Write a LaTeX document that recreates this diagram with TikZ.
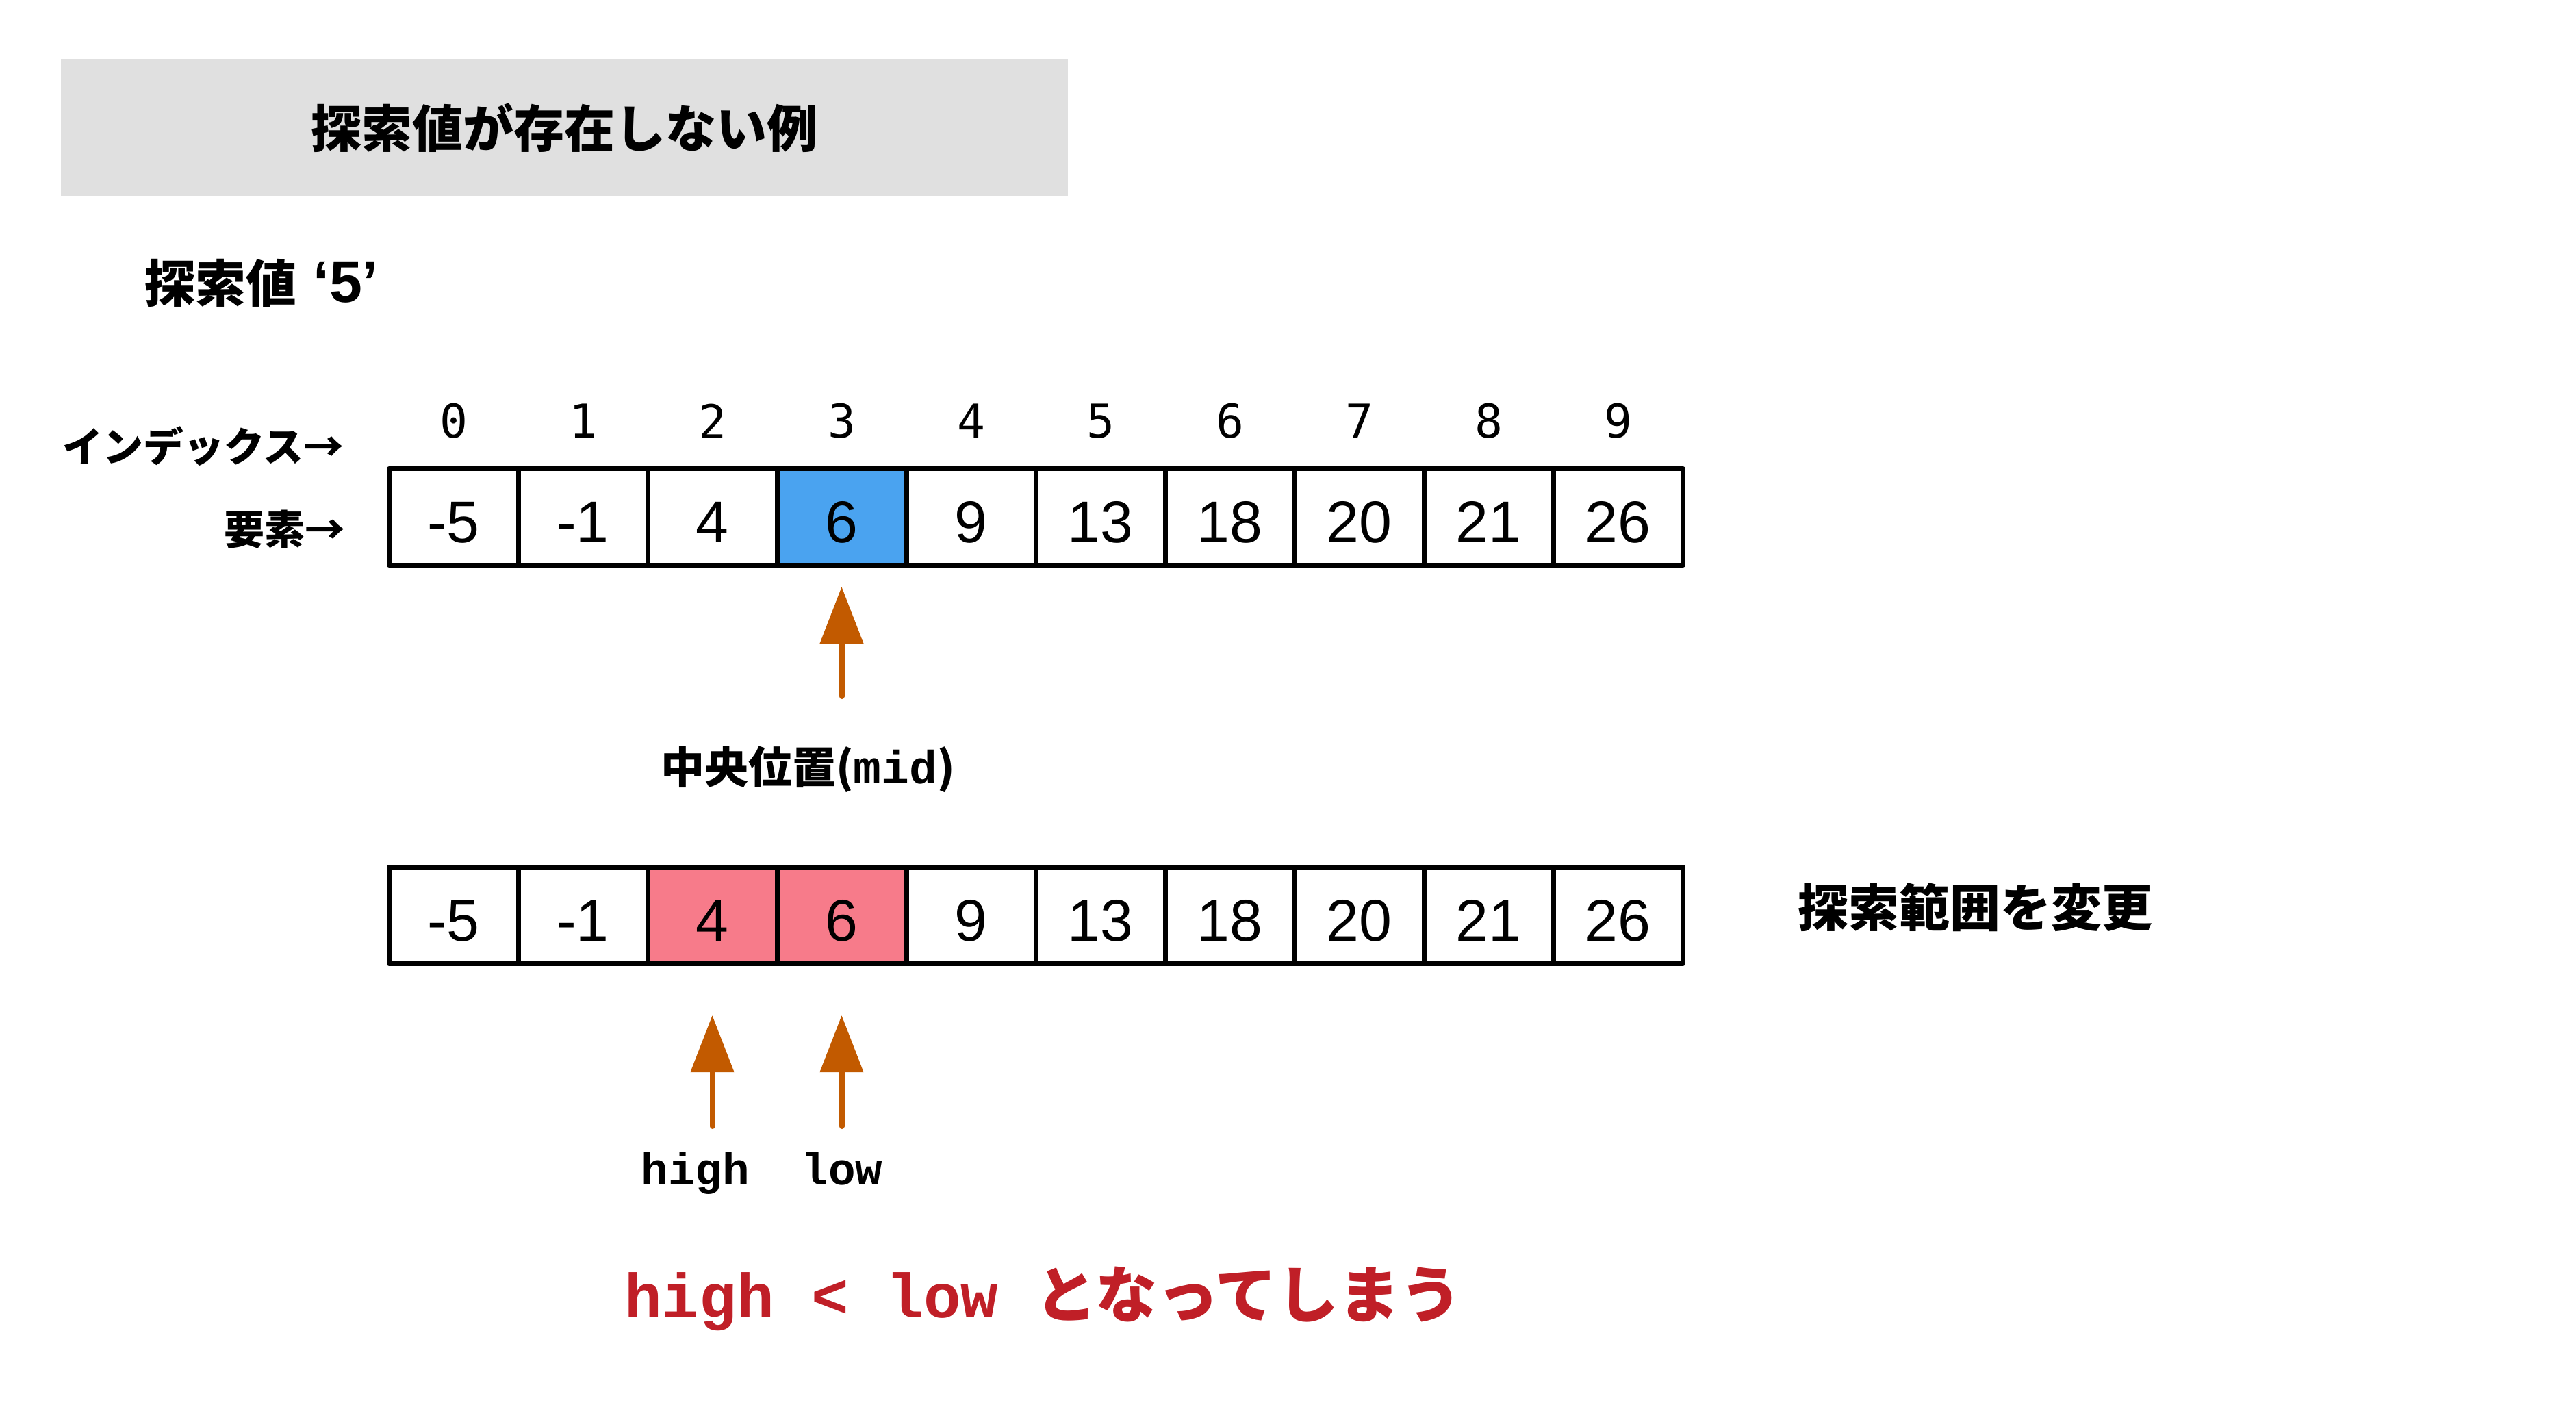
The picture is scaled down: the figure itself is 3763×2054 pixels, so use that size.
\documentclass[tikz,border=0pt]{standalone}
\usepackage{fontspec}
\usetikzlibrary{arrows.meta}
\newfontfamily\jp{Noto Sans CJK JP}
\newfontfamily\helv{Liberation Sans}
\newfontfamily\cour{Liberation Mono}
\newfontfamily\menlo{DejaVu Sans Mono}
\definecolor{titlegray}{RGB}{224,224,224}
\definecolor{cellblue}{RGB}{74,163,240}
\definecolor{cellpink}{RGB}{247,123,138}
\definecolor{arrowc}{RGB}{194,90,0}
\definecolor{warnred}{RGB}{192,31,39}
\tikzset{
  cell/.style={draw=black, line width=7pt, line join=round, minimum width=189pt,
    minimum height=141pt, inner sep=0pt, outer sep=0pt,
    text height=75pt, text depth=0pt,
    font=\helv\fontsize{86}{86}\selectfont},
  idx/.style={inner sep=0pt, font=\menlo\fontsize{68}{68}\selectfont},
  jphead/.style={inner sep=0pt, font=\jp\bfseries\fontsize{74}{80}\selectfont},
  jplabel/.style={inner sep=0pt, font=\jp\bfseries\fontsize{59}{64}\selectfont},
  ptr/.style={draw=arrowc, line width=8pt, line cap=round,
    -{Triangle[length=83pt,width=62pt]}},
  codelbl/.style={inner sep=0pt, font=\cour\bfseries\fontsize{66}{66}\selectfont},
}
\begin{document}
\begin{tikzpicture}[x=1pt,y=-1pt]
\fill[white] (0,0) rectangle (3763,2054);
\useasboundingbox (0,0) rectangle (3763,2054);

% title
\node[fill=titlegray, minimum width=1471pt, minimum height=200pt, inner sep=0pt] (titlebox) at (824.5,186) {};
\node[jphead] (title) at (824,187) {探索値が存在しない例};

\node[jphead, anchor=west] (target) at (211,413) {探索値{\helv\bfseries\fontsize{86}{86}\selectfont\ ‘5’}};

% row labels
\node[jplabel, anchor=east] (idxlbl) at (503,652) {インデックス→};
\node[jplabel, anchor=east] (elemlbl) at (505,773) {要素→};

% indices
\foreach \i in {0,...,9}
  \node[idx] (i\i) at ({568+189*(\i+0.5)},615) {\i};

% top array
\foreach \v/\c [count=\k from 0] in {-5/white,-1/white,4/white,6/cellblue,9/white,13/white,18/white,20/white,21/white,26/white}
  \node[cell, fill=\c] (t\k) at ({568+189*(\k+0.5)},755) {\v};

% mid arrow
\coordinate (mtip) at (1229.5,857);
\coordinate (mbase) at (1229.5,1017);
\draw[ptr] (mbase) -- (mtip);
\node[inner sep=0pt, font=\jp\bfseries\fontsize{64}{70}\selectfont] (midlbl) at (1180,1124)
  {中央位置({\cour\bfseries\fontsize{68}{68}\selectfont mid})};

% bottom array
\foreach \v/\c [count=\k from 0] in {-5/white,-1/white,4/cellpink,6/cellpink,9/white,13/white,18/white,20/white,21/white,26/white}
  \node[cell, fill=\c] (b\k) at ({568+189*(\k+0.5)},1337) {\v};

\node[jphead, anchor=west] (change) at (2626,1325) {探索範囲を変更};

% high / low arrows
\coordinate (htip) at (1040.5,1483);
\coordinate (hbase) at (1040.5,1645);
\coordinate (ltip) at (1229.5,1483);
\coordinate (lbase) at (1229.5,1645);
\draw[ptr] (hbase) -- (htip);
\draw[ptr] (lbase) -- (ltip);
\node[codelbl, anchor=base] (high) at (1016,1730) {high};
\node[codelbl, anchor=base] (low) at (1230,1730) {low};

% conclusion
\node[inner sep=0pt, anchor=base west, text=warnred] (concl) at (912,1924)
  {{\cour\bfseries\fontsize{91}{91}\selectfont high < low }{\jp\bfseries\fontsize{90}{92}\selectfont となってしまう}};
\end{tikzpicture}
\end{document}
